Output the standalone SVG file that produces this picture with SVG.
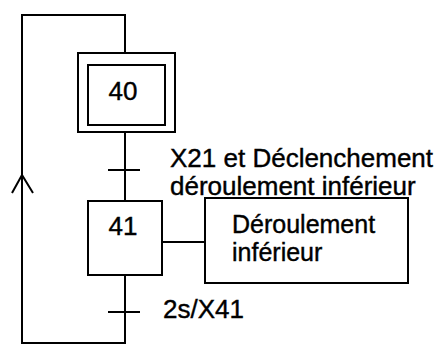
<svg xmlns="http://www.w3.org/2000/svg" width="446" height="349" viewBox="0 0 446 349">
<style>
.ln{fill:none;stroke:#000;stroke-width:2}
.bx{fill:#fff;stroke:#000;stroke-width:2}
text{font-family:"Liberation Sans",Arial,sans-serif;font-size:26px;fill:#000;stroke:#000;stroke-width:0.4}
.sm{font-size:25px}
</style>
<rect width="446" height="349" fill="#fff"/>
<g id="connectors">
<polyline class="ln" points="125,53 125,15 22,15 22,343 125,343 125,275"/>
<polyline class="ln" points="12,193 22,175 33,193"/>
<line class="ln" x1="125" y1="132" x2="125" y2="201"/>
<line class="ln" x1="108" y1="170" x2="140" y2="170"/>
<line class="ln" x1="108" y1="312" x2="140" y2="312"/>
<line class="ln" x1="162" y1="242" x2="205" y2="242"/>
</g>
<g id="step40">
<rect class="bx" x="78" y="53" width="97" height="79"/>
<rect class="bx" x="88" y="65" width="77" height="60"/>
<text x="123" y="100" text-anchor="middle">40</text>
</g>
<g id="t1">
<text x="170" y="167">X21 et Déclenchement</text>
<text x="170" y="195">déroulement inférieur</text>
</g>
<g id="step41">
<rect class="bx" x="88" y="201" width="74" height="74"/>
<text x="123" y="235" text-anchor="middle">41</text>
</g>
<g id="action">
<rect class="bx" x="205" y="198" width="203" height="85"/>
<text class="sm" x="232" y="233">Déroulement</text>
<text class="sm" x="232" y="261">inférieur</text>
</g>
<g id="t2">
<text x="163" y="318">2s/X41</text>
</g>
</svg>
